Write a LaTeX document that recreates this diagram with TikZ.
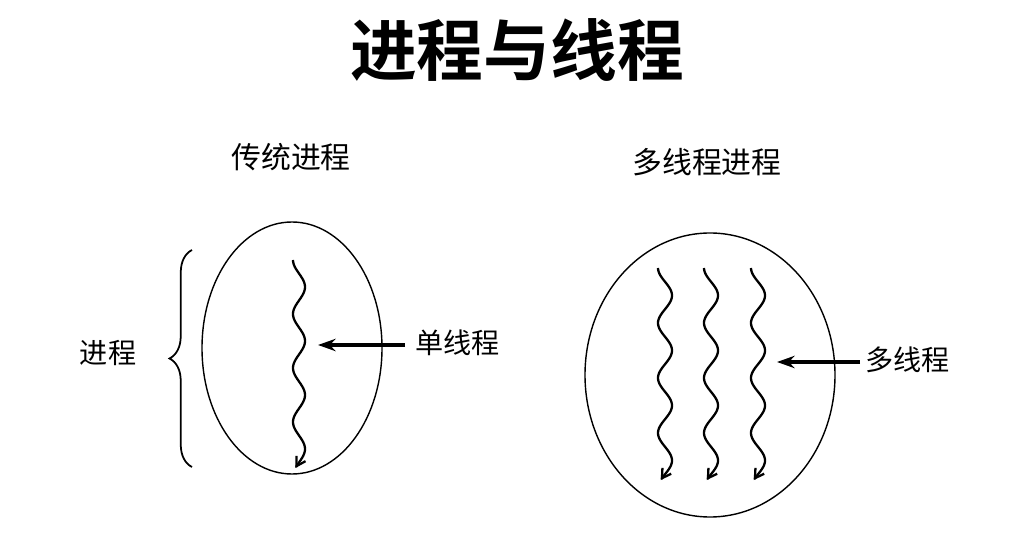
\documentclass[tikz,border=0pt]{standalone}
\usepackage{fontspec}
\setmainfont{Noto Sans CJK SC}
\newfontfamily\cjkbold{Noto Sans CJK SC Bold}
\usepackage{tikz}
\usetikzlibrary{calc, positioning, arrows.meta, decorations.pathreplacing}

\tikzset{
  lbl/.style={font=\fontsize{16}{18}\selectfont, inner sep=0pt},
  thread/.style={line width=1.3pt, -{Straight Barb[length=5pt,width=6pt]}},
  ptr/.style={line width=2pt, -{Stealth[length=10pt,width=7pt]}}
}

\begin{document}
\begin{tikzpicture}[>=stealth, x=0.02cm, y=-0.02cm]
  \useasboundingbox (0,0) rectangle (1027,536);
  \node[font=\cjkbold\fontsize{38}{40}\selectfont] (title) at (517,50) {进程与线程};
  \node[font=\fontsize{17}{19}\selectfont] (trad) at (291,157) {传统进程};
  \node[font=\fontsize{17}{19}\selectfont] (multi) at (707,162) {多线程进程};

  % process bodies
  \draw[line width=0.8pt] (292,348) ellipse [x radius=90, y radius=126];
  \draw[line width=0.8pt] (710,375) ellipse [x radius=125, y radius=142];

  % single thread
  \draw[thread, domain=0:208, samples=120, smooth, variable=\t]
    plot ({299-6*cos(\t*6.667)}, {260+\t});
  % three threads
  \foreach \xc in {665, 711, 758} {
    \draw[thread, domain=0:212, samples=120, smooth, variable=\t]
      plot ({\xc-7*cos(\t*6.545)}, {268+\t});
  }

  % labels and pointers
  \node[lbl, anchor=west] (single) at (415,343) {单线程};
  \coordinate (singletip) at (318,345);
  \draw[ptr] (single.west |- singletip) ++(-10,0) -- (singletip);

  \node[lbl, anchor=west] (many) at (865,360) {多线程};
  \coordinate (manytip) at (777,362);
  \draw[ptr] (many.west |- manytip) ++(-5,0) -- (manytip);

  % brace for the whole process
  \coordinate (bbot) at (192,467);
  \coordinate (btop) at (192,250);
  \draw[line width=1pt, decorate, decoration={brace, amplitude=0.45cm}] (bbot) -- (btop);
  \node[lbl] (proc) at (108,353) {进程};
\end{tikzpicture}
\end{document}
